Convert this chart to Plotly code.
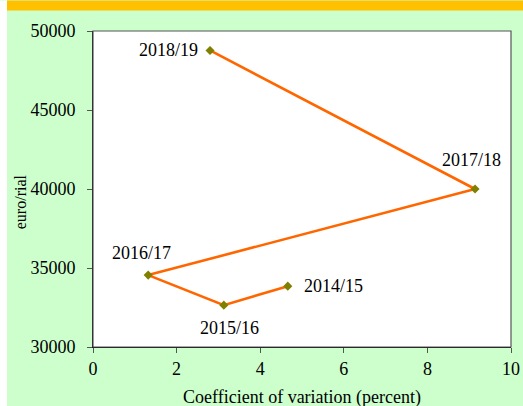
import plotly.graph_objects as go

years = ["2014/15", "2015/16", "2016/17", "2017/18", "2018/19"]
cv_percent = [4.66, 3.13, 1.32, 9.14, 2.80]
euro_rial = [33850, 32650, 34550, 40000, 48770]
# label offsets relative to each point (pixels)
label_anchor = ["left", "center", "center", "center", "right"]
label_dx = [14, 6, -7, -4, -10]
label_dy = [0, -23, 22, 29, 0]

W, H = 523, 406
L, R, T, B = 93, 12, 30.5, 59
pw, ph = W - L - R, H - T - B

def px(x):
    return (x - L) / pw

def py(y):
    return (H - B - y) / ph

font = "Liberation Serif, Times New Roman, serif"

fig = go.Figure()
fig.add_trace(go.Scatter(
    x=cv_percent, y=euro_rial, mode="lines+markers",
    line=dict(color="#FF6600", width=2.6),
    marker=dict(symbol="diamond", size=7, color="#808000"),
    showlegend=False, cliponaxis=False,
))

annotations = [
    dict(text=t, x=x, y=y, xref="x", yref="y", showarrow=False,
         xanchor=a, yanchor="middle", xshift=dx, yshift=dy,
         font=dict(size=18))
    for t, x, y, a, dx, dy in zip(years, cv_percent, euro_rial, label_anchor, label_dx, label_dy)
]
annotations += [
    dict(text="Coefficient of variation (percent)", xref="paper", yref="paper",
         x=0.5, y=py(398), yanchor="middle", showarrow=False, font=dict(size=18)),
    dict(text="euro/rial", xref="paper", yref="paper", x=px(20), y=py(202),
         xanchor="center", yanchor="middle",
         textangle=-90, showarrow=False, font=dict(size=16)),
]

fig.update_layout(
    width=W, height=H, autosize=False,
    margin=dict(l=L, r=R, t=T, b=B, autoexpand=False),
    paper_bgcolor="#CCFFCC", plot_bgcolor="white",
    font=dict(family=font, size=18, color="black"),
    xaxis=dict(range=[0, 10], dtick=2, showgrid=False, zeroline=False, automargin=False,
               showline=True, linecolor="black", linewidth=1,
               ticks="outside", ticklen=5, tickcolor="#555", ticklabelstandoff=0),
    yaxis=dict(range=[30000, 50000], dtick=5000, tickformat="d", showgrid=False, zeroline=False,
               automargin=False,
               showline=True, linecolor="black", linewidth=1,
               ticks="outside", ticklen=5, tickcolor="#555", ticklabelstandoff=8),
    shapes=[
        dict(type="rect", xref="paper", yref="paper", x0=px(0), x1=px(7),
             y0=py(H), y1=py(0), fillcolor="white", line_width=0, layer="below"),
        dict(type="rect", xref="paper", yref="paper", x0=px(7), x1=px(W),
             y0=py(10), y1=py(0), fillcolor="#FFC000", line_width=0, layer="below"),
        dict(type="rect", xref="paper", yref="paper", x0=0, x1=1, y0=0, y1=1,
             line=dict(color="#555", width=1.2), layer="above"),
    ],
    annotations=annotations,
)

fig.write_html("out.html", config={"displayModeBar": False},
               post_script="document.body.style.margin='0';")
